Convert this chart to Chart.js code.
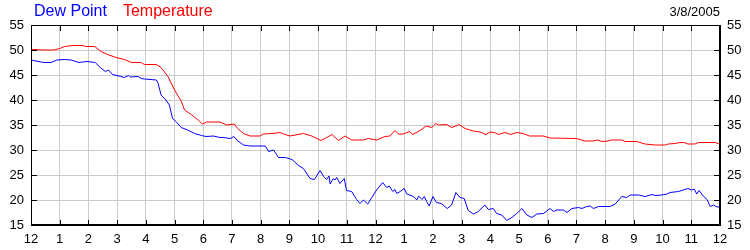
<!DOCTYPE html>
<html>
<head>
<meta charset="utf-8">
<script src="https://cdn.jsdelivr.net/npm/chart.js@4/dist/chart.umd.min.js"></script>
<style>
html,body{margin:0;padding:0;background:#fff;}
canvas{display:block;}
</style>
</head>
<body>
<canvas id="c" width="750" height="250"></canvas>
<script>
// ---- data (hours since midnight, °F) ----
const hourLabels = ['12','1','2','3','4','5','6','7','8','9','10','11','12','1','2','3','4','5','6','7','8','9','10','11','12'];
const yTickValues = [15,20,25,30,35,40,45,50,55];
const dateLabel = '3/8/2005';

const tempHours = [0.0,0.48,0.8,1.0,1.17,1.46,1.81,1.9,2.22,2.44,2.67,2.96,3.26,3.5,3.84,3.95,4.37,4.53,4.77,5.0,5.23,5.35,5.58,5.82,5.97,6.12,6.58,6.82,7.08,7.2,7.4,7.63,7.98,8.1,8.39,8.68,8.8,9.02,9.2,9.49,9.78,10.1,10.3,10.48,10.71,10.94,11.17,11.58,11.75,12.04,12.33,12.5,12.68,12.8,12.97,13.18,13.3,13.55,13.76,13.96,14.1,14.2,14.48,14.66,14.92,15.12,15.41,15.64,15.85,15.99,16.15,16.28,16.51,16.7,16.92,17.15,17.36,17.85,18.08,19.0,19.3,19.59,19.74,19.88,20.1,20.22,20.58,20.7,21.1,21.39,21.74,22.09,22.2,22.43,22.61,22.75,22.88,23.12,23.25,23.83,24.0];
const tempValues = [50.1,50.0,50.0,50.3,50.7,50.9,50.9,50.7,50.7,49.7,49.1,48.5,48.1,47.5,47.5,47.1,47.1,46.5,44.7,42.0,39.8,38.0,37.1,36.0,35.2,35.6,35.6,35.0,35.2,34.3,33.3,32.8,32.8,33.2,33.3,33.5,33.2,32.8,33.0,33.3,32.8,31.9,32.5,33.1,31.9,32.8,32.0,32.0,32.3,32.0,32.7,32.8,33.9,33.2,33.2,33.7,33.1,33.9,34.8,34.5,35.3,35.0,35.1,34.5,35.1,34.3,33.8,33.6,33.1,33.6,33.5,33.1,33.5,33.1,33.5,33.3,32.8,32.8,32.4,32.3,31.8,31.8,32.0,31.7,31.8,32.0,32.0,31.7,31.7,31.2,31.0,31.0,31.2,31.3,31.5,31.5,31.2,31.2,31.5,31.5,31.2];

const dewHours = [0.0,0.44,0.7,0.9,1.17,1.4,1.66,1.95,2.24,2.41,2.59,2.7,2.84,3.13,3.25,3.4,3.46,3.73,3.84,3.95,4.37,4.43,4.53,4.7,4.82,4.93,5.05,5.23,5.46,5.7,5.94,6.1,6.35,6.58,6.7,6.94,7.07,7.18,7.4,7.63,8.16,8.28,8.45,8.62,8.86,9.09,9.32,9.49,9.72,9.87,10.07,10.19,10.3,10.38,10.42,10.53,10.59,10.65,10.76,10.91,10.99,11.17,11.34,11.46,11.58,11.73,11.87,12.04,12.25,12.39,12.48,12.6,12.68,12.74,12.86,13.0,13.09,13.32,13.44,13.5,13.62,13.7,13.78,13.87,14.0,14.12,14.29,14.5,14.65,14.8,14.94,15.09,15.23,15.41,15.58,15.81,15.93,16.1,16.22,16.4,16.57,16.75,16.92,17.1,17.27,17.45,17.62,17.85,18.08,18.2,18.32,18.55,18.67,18.84,19.07,19.19,19.36,19.48,19.59,19.77,20.17,20.35,20.58,20.75,20.87,21.16,21.39,21.63,21.74,21.97,22.15,22.26,22.55,22.72,22.88,23.02,23.1,23.19,23.27,23.43,23.55,23.66,23.78,23.86,24.0];
const dewValues = [48.0,47.5,47.5,48.0,48.1,48.0,47.5,47.7,47.5,46.5,45.7,46.0,45.1,44.7,44.5,44.9,44.6,44.7,44.3,44.2,44.0,43.3,41.0,40.0,39.0,36.3,35.7,34.5,34.0,33.3,32.9,32.7,32.8,32.5,32.5,32.3,32.7,31.9,31.0,30.8,30.8,29.7,30.0,28.5,28.5,28.1,26.9,26.3,24.3,24.1,25.9,24.7,24.1,24.8,23.2,24.3,24.0,24.5,23.3,24.3,21.9,21.7,20.1,19.3,20.0,19.2,20.5,22.0,23.5,22.5,22.8,21.7,22.1,21.3,21.7,22.3,21.2,20.7,20.0,20.8,20.1,20.7,19.7,18.8,20.7,19.5,19.3,18.3,19.0,21.5,20.5,20.3,17.9,17.2,17.7,19.0,18.1,18.3,17.3,17.0,15.9,16.5,17.3,18.3,17.0,16.5,17.2,17.3,18.3,17.7,18.0,18.0,17.5,18.3,18.5,18.3,18.7,18.8,18.3,18.7,18.7,19.2,20.7,20.5,21.0,21.0,20.7,21.1,20.9,21.0,21.2,21.5,21.7,22.0,22.3,22.0,22.2,21.2,21.9,20.7,20.1,18.7,19.0,18.7,18.5];

const toPoints = (xs, ys) => xs.map((x, i) => ({x: x, y: ys[i]}));

const FONT = "Arial, 'Liberation Sans', sans-serif";

const framePlugin = {
  id: 'frame',
  afterDraw(chart) {
    const ctx = chart.ctx;
    const a = chart.chartArea;
    const xs = chart.scales.x, ys = chart.scales.y;
    ctx.save();
    ctx.strokeStyle = '#000';
    ctx.lineWidth = 1;
    ctx.beginPath();
    ctx.rect(Math.round(a.left) + 0.5, Math.round(a.top) + 0.5, Math.round(a.right - a.left) - 1, Math.round(a.bottom - a.top) - 1);
    ctx.stroke();
    ctx.beginPath();
    for (let h = 0; h < hourLabels.length; h++) {
      const px = Math.round(xs.getPixelForValue(h)) + 0.5;
      ctx.moveTo(px, a.top); ctx.lineTo(px, a.top + 6);
      ctx.moveTo(px, a.bottom); ctx.lineTo(px, a.bottom - 5);
    }
    yTickValues.forEach(v => {
      const py = Math.round(ys.getPixelForValue(v)) + 0.5;
      ctx.moveTo(a.left, py); ctx.lineTo(a.left + 6, py);
      ctx.moveTo(a.right, py); ctx.lineTo(a.right - 6, py);
    });
    ctx.stroke();
    // legend-like header
    ctx.font = '16px ' + FONT;
    ctx.textBaseline = 'middle';
    ctx.textAlign = 'left';
    let x = 34;
    chart.data.datasets.forEach(ds => {
      ctx.fillStyle = ds.borderColor;
      ctx.fillText(ds.label, x, 12);
      x += ctx.measureText(ds.label).width + 16;
    });
    ctx.font = '13px ' + FONT;
    ctx.textAlign = 'right';
    ctx.fillStyle = '#000';
    ctx.fillText(dateLabel, a.right, 12);
    ctx.restore();
  }
};

new Chart(document.getElementById('c'), {
  type: 'line',
  data: {
    datasets: [
      {label: 'Dew Point', data: toPoints(dewHours, dewValues), borderColor: '#0000ff', borderWidth: 1, pointRadius: 0, tension: 0, fill: false},
      {label: 'Temperature', data: toPoints(tempHours, tempValues), borderColor: '#ff0000', borderWidth: 1, pointRadius: 0, tension: 0, fill: false}
    ]
  },
  options: {
    responsive: false,
    animation: false,
    devicePixelRatio: 1,
    layout: {padding: {top: 25, left: 0, right: 0, bottom: 0}},
    plugins: {legend: {display: false}, tooltip: {enabled: false}},
    scales: {
      x: {
        type: 'linear', min: 0, max: 24,
        afterFit: s => { s.height = 25; },
        afterBuildTicks: s => { s.ticks = hourLabels.map((_, i) => ({value: i})); },
        ticks: {autoSkip: false, maxRotation: 0, padding: 7, color: '#000', font: {family: FONT, size: 13},
          callback: (v) => hourLabels[v]},
        grid: {color: '#cccccc', drawTicks: false},
        border: {color: '#000'}
      },
      y: {
        position: 'left', min: 15, max: 55,
        afterFit: s => { s.width = 31; },
        afterBuildTicks: s => { s.ticks = yTickValues.map(v => ({value: v})); },
        ticks: {padding: 7, color: '#000', font: {family: FONT, size: 13}},
        grid: {color: '#cccccc', drawTicks: false},
        border: {color: '#000'}
      },
      y2: {
        position: 'right', min: 15, max: 55,
        afterFit: s => { s.width = 30; },
        afterBuildTicks: s => { s.ticks = yTickValues.map(v => ({value: v})); },
        ticks: {padding: 7, color: '#000', font: {family: FONT, size: 13}},
        grid: {display: false, drawTicks: false},
        border: {color: '#000'}
      }
    }
  },
  plugins: [framePlugin]
});
</script>
</body>
</html>
